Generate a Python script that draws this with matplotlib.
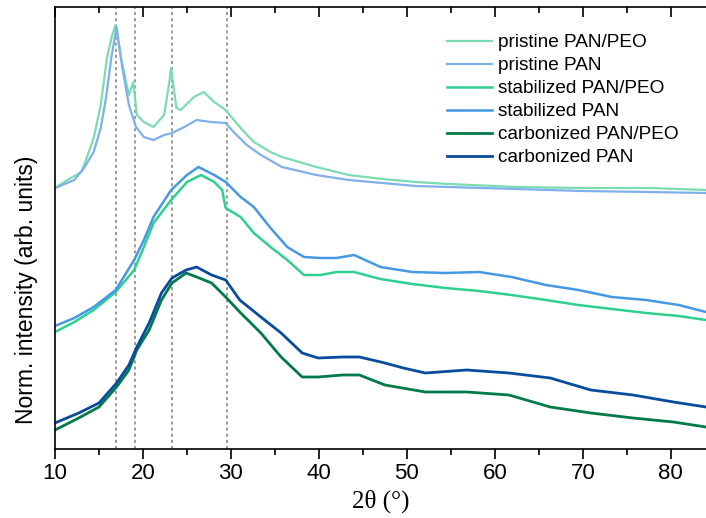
import matplotlib
matplotlib.use("Agg")
import matplotlib.pyplot as plt
from matplotlib.ticker import MultipleLocator

# XRD patterns, stacked with offsets (arb. units)
x_pris_pe = [10, 11.8, 13.0, 13.6, 14.4, 15.2, 15.9, 16.5, 16.9, 17.5, 18.4, 18.9, 19.3, 20.1, 21.2,
             22.4, 23.0, 23.2, 23.8, 24.3, 25.8, 26.9, 28.1, 29.4, 31.1, 32.6, 34.5, 35.8, 39.7,
             43.4, 47.2, 51.0, 54.8, 62.4, 69.9, 77.5, 84]
y_pris_pe = [261, 271, 277, 291, 311, 344, 391, 414, 424, 391, 354, 367, 334, 327, 322,
             334, 367, 381, 341, 339, 352, 357, 347, 339, 321, 307, 297, 292, 282,
             274, 270, 267, 265, 262, 261, 261, 259]

x_pris = [10, 12.2, 13.3, 14.4, 15.2, 15.8, 16.4, 17.0, 17.6, 18.4, 19.2, 20.1, 21.2, 22.4, 23.3,
          24.7, 26.1, 27.7, 29.4, 30.3, 31.8, 33.4, 35.8, 39.7, 43.4, 47.2, 51.0, 54.8, 62.4,
          69.9, 77.5, 84]
y_pris = [261, 269, 281, 297, 321, 351, 391, 422, 384, 344, 322, 312, 309, 314, 316,
          322, 329, 327, 326, 317, 304, 294, 282, 274, 269, 266, 263, 262, 260,
          258, 257, 256]

x_stab_pe = [10, 12.2, 14.4, 16.9, 19.0, 20.1, 21.2, 23.2, 25.0, 26.6, 28.1, 29.0, 29.4, 31.1, 32.6,
             34.5, 36.4, 38.3, 40.2, 42.0, 44.0, 47.0, 50.6, 54.4, 58.2, 61.9, 65.8, 69.5, 73.3,
             77.2, 80.9, 84]
y_stab_pe = [117, 127, 139, 157, 179, 202, 226, 249, 267, 274, 267, 259, 241, 232, 216,
             202, 189, 174, 174, 177, 177, 170, 165, 161, 158, 154, 149, 144, 140,
             136, 133, 129]

x_stab = [10, 12.2, 14.4, 16.9, 19.0, 20.1, 21.2, 23.2, 25.0, 26.3, 28.1, 29.4, 31.1, 32.6, 34.5,
          36.4, 38.3, 40.2, 42.0, 44.0, 47.0, 50.6, 54.4, 58.2, 61.9, 65.8, 69.5, 73.3, 77.2,
          80.9, 84]
y_stab = [123, 131, 142, 159, 189, 209, 232, 259, 274, 282, 274, 267, 252, 242, 221,
          202, 192, 191, 191, 194, 182, 177, 176, 177, 172, 164, 159, 152, 149,
          144, 137]

x_carb_pe = [10, 12.7, 15.0, 17.0, 18.4, 19.3, 20.7, 22.1, 23.3, 24.9, 26.1, 27.8, 29.4, 31.0, 33.4,
             35.7, 38.1, 39.9, 42.7, 44.6, 47.5, 52.1, 56.8, 61.6, 66.3, 70.9, 75.7, 80.3, 84]
y_carb_pe = [19, 31, 42, 62, 79, 99, 119, 149, 166, 176, 172, 166, 152, 137, 116,
             92, 72, 72, 74, 74, 64, 57, 57, 54, 42, 36, 31, 27, 22]

x_carb = [10, 12.7, 15.0, 17.0, 18.4, 19.3, 20.7, 22.1, 23.3, 24.9, 26.1, 27.8, 29.4, 31.0, 33.4,
          35.7, 38.1, 39.9, 42.7, 44.6, 47.5, 49.6, 52.1, 56.8, 61.6, 66.3, 70.9, 75.7, 80.3, 84]
y_carb = [26, 36, 46, 66, 84, 102, 126, 156, 171, 179, 182, 174, 169, 149, 132,
          116, 96, 91, 92, 92, 86, 81, 76, 79, 76, 71, 59, 54, 47, 42]

peak_pos = [16.9, 19.1, 23.3, 29.5]

series = [
    ("pristine PAN/PEO", x_pris_pe, y_pris_pe, "#7adcb0", 1.6),
    ("pristine PAN", x_pris, y_pris, "#7fb0ea", 1.6),
    ("stabilized PAN/PEO", x_stab_pe, y_stab_pe, "#2fd08f", 1.8),
    ("stabilized PAN", x_stab, y_stab, "#4598e4", 1.8),
    ("carbonized PAN/PEO", x_carb_pe, y_carb_pe, "#007a48", 2.0),
    ("carbonized PAN", x_carb, y_carb, "#0a4c9c", 2.0),
]

plt.rcParams['font.family'] = ['Liberation Sans', 'DejaVu Sans']

fig = plt.figure(figsize=(7.06, 5.18), dpi=100)
ax = fig.add_axes([55 / 706, 69 / 518, 1 - 55 / 706, 442 / 518])

for xp in peak_pos:
    ax.axvline(xp, color="#808080", ls=(0, (2, 2)), lw=1.1, zorder=1)

for label, xs, ys, col, lw in series:
    ax.plot(xs, ys, color=col, lw=lw, label=label, zorder=2)

ax.set_xlim(10, 84)
ax.set_ylim(0, 442)
ax.xaxis.set_major_locator(MultipleLocator(10))
ax.xaxis.set_minor_locator(MultipleLocator(5))
ax.set_yticks([])

for s in ["left", "bottom", "top"]:
    ax.spines[s].set_linewidth(1.2)
ax.spines["right"].set_visible(False)

ax.tick_params(axis="x", which="major", direction="out", length=7, width=1.2, labelsize=16, pad=3)
ax.tick_params(axis="x", which="minor", direction="out", length=4, width=1.2)
ax.tick_params(axis="x", which="both", top=True)

# top ticks point inward
for t in ax.xaxis.get_major_ticks() + ax.xaxis.get_minor_ticks():
    t.tick2line.set_marker(3)

ax.set_xlabel("2θ (°)", fontsize=18, family=["Liberation Serif", "DejaVu Serif"], labelpad=4)
ax.set_ylabel("Norm. intensity (arb. units)", fontsize=16.5)
ax.yaxis.set_label_coords(-0.026, 0.36)

ax.legend(loc="upper left", bbox_to_anchor=(447 / 706, 1 - 34 / 518), bbox_transform=fig.transFigure,
          frameon=False, fontsize=13.7, handlelength=2.35, handletextpad=0.32, labelspacing=0.3,
          borderpad=0, borderaxespad=0)

fig.savefig("out.png", dpi=100)
